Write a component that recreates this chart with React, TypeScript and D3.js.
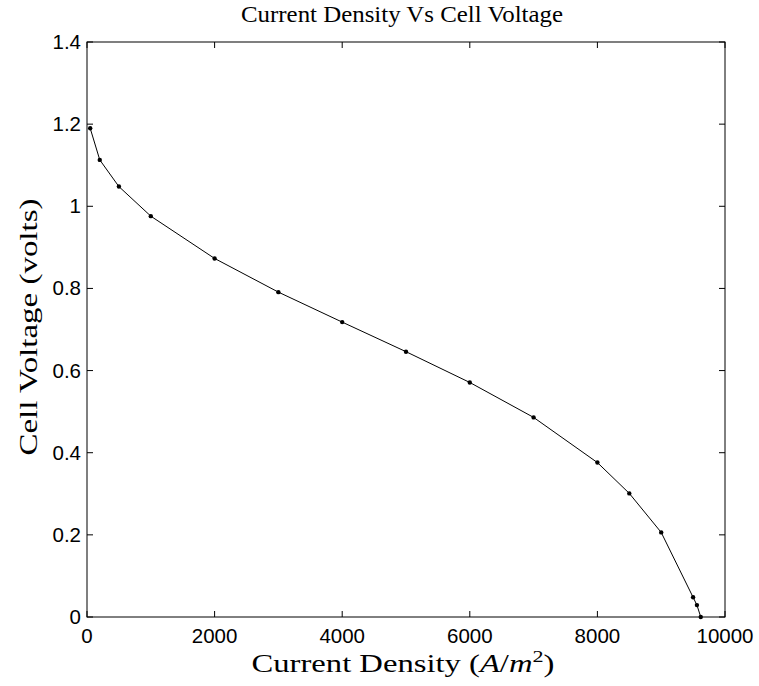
import React from "react";
import * as d3 from "d3";

const currentDensity = [50, 200, 500, 1000, 2000, 3000, 4000, 5000, 6000, 7000, 8000, 8500, 9000, 9500, 9560, 9620];
const cellVoltage = [1.19, 1.113, 1.048, 0.976, 0.873, 0.791, 0.718, 0.646, 0.571, 0.486, 0.376, 0.301, 0.206, 0.048, 0.029, 0.0];
const xTicks = [0, 2000, 4000, 6000, 8000, 10000];
const yTicks = [0, 0.2, 0.4, 0.6, 0.8, 1, 1.2, 1.4];

const W = 759, H = 686;
const L = 87, R = 725, T = 42, B = 617;

export default function App() {
  const x = d3.scaleLinear().domain([0, 10000]).range([L, R]);
  const y = d3.scaleLinear().domain([0, 1.4]).range([B, T]);
  const pts = currentDensity.map((d, i) => [x(d), y(cellVoltage[i])] as [number, number]);
  const line = d3.line()(pts) || "";
  const sans = "Liberation Sans, Arial, Helvetica, sans-serif";
  const serif = "Liberation Serif, Times New Roman, serif";
  return (
    <svg width={W} height={H} style={{ position: "absolute", left: 0, top: 0, background: "#fff" }}>
      <rect x={0} y={0} width={W} height={H} fill="#fff" />
      <rect x={L} y={T} width={R - L} height={B - T} fill="none" stroke="#000" strokeWidth={1} />
      {xTicks.map((t) => (
        <g key={"x" + t}>
          <line x1={x(t)} x2={x(t)} y1={B} y2={B - 6} stroke="#000" />
          <line x1={x(t)} x2={x(t)} y1={T} y2={T + 6} stroke="#000" />
          <text x={x(t)} y={643} textAnchor="middle" fontFamily={sans} fontSize={20.5}>{t}</text>
        </g>
      ))}
      {yTicks.map((t) => (
        <g key={"y" + t}>
          <line x1={L} x2={L + 6} y1={y(t)} y2={y(t)} stroke="#000" />
          <line x1={R} x2={R - 6} y1={y(t)} y2={y(t)} stroke="#000" />
          <text x={81} y={y(t) + 7} textAnchor="end" fontFamily={sans} fontSize={20.5}>{String(t)}</text>
        </g>
      ))}
      <path d={line} fill="none" stroke="#000" strokeWidth={1} />
      {pts.map((p, i) => (
        <circle key={i} cx={p[0]} cy={p[1]} r={2.2} fill="#000" />
      ))}
      <text x={402} y={22} textAnchor="middle" fontFamily={serif} fontSize={23.5} textLength={322} lengthAdjust="spacingAndGlyphs">Current Density Vs Cell Voltage</text>
      <text x={403} y={672} textAnchor="middle" fontFamily={serif} fontSize={25} textLength={303} lengthAdjust="spacingAndGlyphs">
        Current Density (<tspan fontStyle="italic">A</tspan>/<tspan fontStyle="italic">m</tspan>
        <tspan fontSize={17} dy={-10}>2</tspan><tspan dy={10}>)</tspan>
      </text>
      <text transform={`translate(37, 327) rotate(-90)`} textAnchor="middle" fontFamily={serif} fontSize={25} textLength={257} lengthAdjust="spacingAndGlyphs">Cell Voltage (volts)</text>
    </svg>
  );
}
